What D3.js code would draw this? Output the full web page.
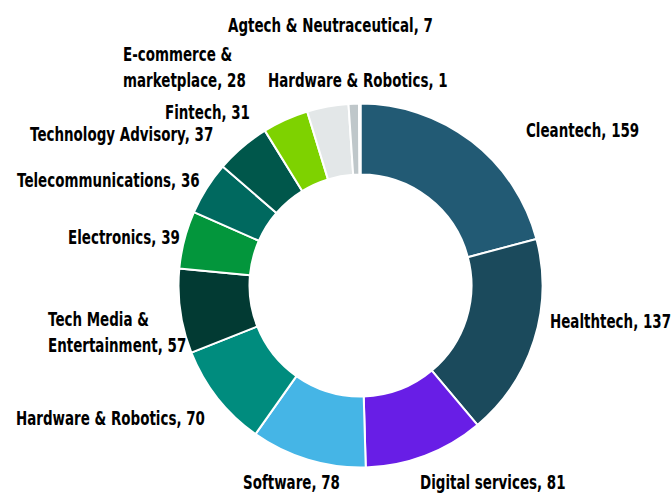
<!DOCTYPE html>
<html>
<head>
<meta charset="utf-8">
<script src="https://cdn.jsdelivr.net/npm/d3@7"></script>
<style>
  html, body { margin: 0; padding: 0; background: #ffffff; }
  svg { display: block; }
  text { font-family: "DejaVu Sans", sans-serif; font-weight: bold; fill: #000; }
</style>
</head>
<body>
<svg id="chart" width="671" height="494"></svg>
<script>
// ---- data ----
const categories = [
  "Cleantech", "Healthtech", "Digital services", "Software", "Hardware & Robotics",
  "Tech Media & Entertainment", "Electronics", "Telecommunications", "Technology Advisory",
  "Fintech", "E-commerce & marketplace", "Agtech & Neutraceutical", "Hardware & Robotics"
];
const values = [159, 137, 81, 78, 70, 57, 39, 36, 37, 31, 28, 7, 1];
const colors = [
  "#225a74", "#1b4a5c", "#681ee6", "#45b5e6", "#008c7e",
  "#023a33", "#03963c", "#00695f", "#00574b", "#7ed200",
  "#e3e7e8", "#bfc7ca", "#d9dedf"
];
// label lines (as displayed)
const labelLines = [
  ["Cleantech, 159"], ["Healthtech, 137"], ["Digital services, 81"], ["Software, 78"],
  ["Hardware & Robotics, 70"], ["Tech Media &", "Entertainment, 57"], ["Electronics, 39"],
  ["Telecommunications, 36"], ["Technology Advisory, 37"], ["Fintech, 31"],
  ["E-commerce &", "marketplace, 28"], ["Agtech & Neutraceutical, 7"], ["Hardware & Robotics, 1"]
];

// ---- layout ----
const cx = 360.5, cy = 285.5, outerR = 182, innerR = 111;
// label anchor: left x, vertical centre of first line
const labelLayout = [
  [526, 130], [550, 321], [420, 482], [243, 482], [16, 418], [48, 319], [68, 237],
  [17, 180], [30, 134], [165, 112], [123, 54], [228, 25], [268, 80]
];
const lineGap = 26;
const fontSize = 19;
const refLabelWidth = 189; // width of "Hardware & Robotics, 70" in the reference (condensed face)

const svg = d3.select("#chart");
const g = svg.append("g").attr("transform", `translate(${cx},${cy})`);

const pie = d3.pie().sort(null).value(d => d.value);
const arc = d3.arc().innerRadius(innerR).outerRadius(outerR);
const data = values.map((v, i) => ({ name: categories[i], value: v, color: colors[i], i }));

g.selectAll("path")
  .data(pie(data))
  .join("path")
  .attr("d", arc)
  .attr("fill", d => d.data.color)
  .attr("stroke", "#ffffff")
  .attr("stroke-width", 2)
  .attr("stroke-linejoin", "round");

// measure natural width to emulate the condensed face
const probe = svg.append("text").attr("font-size", fontSize).text(labelLines[4][0]);
const k = refLabelWidth / probe.node().getComputedTextLength();
probe.remove();

const labels = svg.append("g");
data.forEach((d, i) => {
  const [x, y] = labelLayout[i];
  const t = labels.append("text")
    .attr("transform", `translate(${x},${y}) scale(${k},1)`)
    .attr("font-size", fontSize)
    .attr("dominant-baseline", "central");
  labelLines[i].forEach((line, j) => {
    t.append("tspan").attr("x", 0).attr("y", j * lineGap).text(line);
  });
});
</script>
</body>
</html>
